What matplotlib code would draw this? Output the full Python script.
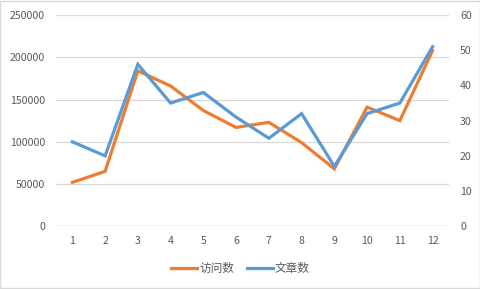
import matplotlib.pyplot as plt
from matplotlib.patches import Rectangle

plt.rcParams['font.family'] = ['Noto Sans CJK SC', 'DejaVu Sans']

# data
months = list(range(1, 13))
visits = [52000, 65000, 184000, 166000, 137000, 117000, 123000, 99000, 68000, 141000, 125000, 208000]
articles = [24, 20, 46, 35, 38, 31, 25, 32, 17, 32, 35, 51]
left_ticks = [0, 50000, 100000, 150000, 200000, 250000]
right_ticks = [0, 10, 20, 30, 40, 50, 60]

orange = '#ED7D31'
blue = '#5B9BD5'
grid_c = '#D9D9D9'
text_c = '#595959'

fig = plt.figure(figsize=(4.81, 2.89), dpi=100)
ax = fig.add_axes([0.1164, 0.217, 0.817, 0.731])
ax2 = ax.twinx()

l1, = ax.plot(months, visits, color=orange, lw=2.3, solid_joinstyle='miter', label='访问数', zorder=3)
l2, = ax2.plot(months, articles, color=blue, lw=2.3, solid_joinstyle='miter', label='文章数', zorder=4)

ax.set_xlim(0.5, 12.5)
ax.set_ylim(0, 250000)
ax2.set_ylim(0, 60)
ax.set_xticks(months)
ax.set_yticks(left_ticks)
ax2.set_yticks(right_ticks)
ax.set_yticklabels([str(v) for v in left_ticks])
ax2.set_yticklabels([str(v) for v in right_ticks])

ax.yaxis.grid(True, color=grid_c, lw=0.9)
ax.set_axisbelow(True)
for a in (ax, ax2):
    for s in a.spines.values():
        s.set_visible(False)
    a.tick_params(length=0, labelsize=7.6, labelcolor=text_c)
ax.tick_params(axis='y', pad=8)
ax2.tick_params(axis='y', pad=8)
ax.tick_params(axis='x', pad=7)
ax.axhline(0, color=grid_c, lw=0.9, zorder=1)

fig.legend(handles=[l1, l2], loc='center', bbox_to_anchor=(0.5, 0.07), ncol=2,
           frameon=False, fontsize=8.4, labelcolor=text_c, handlelength=2.2,
           handletextpad=0.2, columnspacing=1.1)

fig.patches.append(Rectangle((0.001, 0.002), 0.997, 0.995, transform=fig.transFigure,
                             fill=False, edgecolor=grid_c, lw=1.0))

fig.savefig('out.png', dpi=100)
